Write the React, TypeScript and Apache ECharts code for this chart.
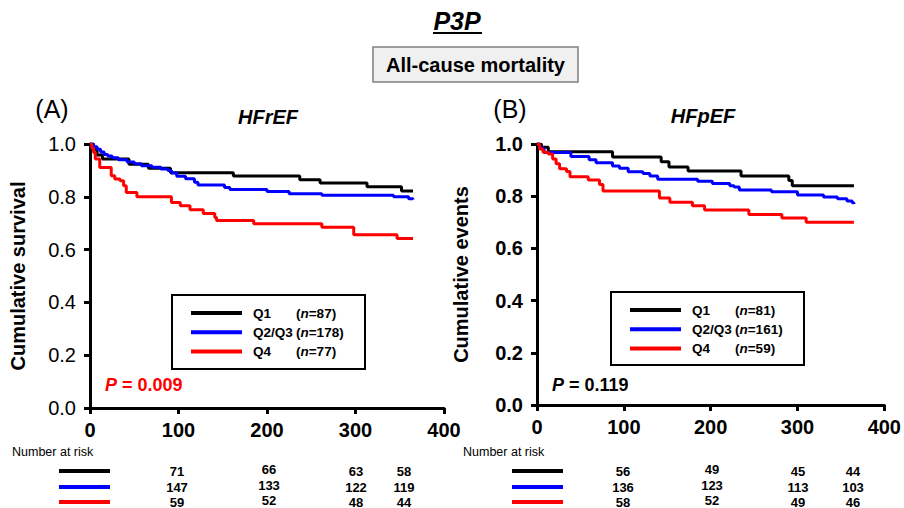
import React, { useEffect, useRef } from "react";
import * as echarts from "echarts";

// ---- Data ----
const xTicks = [0, 100, 200, 300, 400];
const yTicks = [0, 0.2, 0.4, 0.6, 0.8, 1.0];
const groups = ["Q1", "Q2/Q3", "Q4"];
const nA = [87, 178, 77];
const nB = [81, 161, 59];
const pA = "0.009";
const pB = "0.119";

// Panel A (HFrEF) Kaplan–Meier steps: [day, survival]
const A_Q1: [number, number][] = [[0,1],[4,0.98],[8,0.958],[14,0.943],[44,0.923],[66,0.908],[91,0.891],[162,0.879],[237,0.865],[260,0.852],[313,0.838],[352,0.822],[365,0.822]];
const A_Q23: [number, number][] = [[0,1],[4,0.99],[8,0.98],[12,0.97],[16,0.96],[20,0.955],[25,0.948],[32,0.94],[42,0.932],[50,0.925],[58,0.918],[70,0.912],[80,0.905],[88,0.9],[92,0.89],[98,0.878],[108,0.868],[118,0.855],[122,0.845],[152,0.835],[158,0.828],[200,0.82],[225,0.812],[262,0.806],[343,0.8],[360,0.793],[365,0.79]];
const A_Q4: [number, number][] = [[0,1],[2,0.985],[4,0.968],[6,0.943],[11,0.911],[24,0.88],[28,0.867],[34,0.861],[38,0.842],[41,0.816],[53,0.8],[92,0.778],[102,0.766],[113,0.751],[128,0.737],[141,0.722],[143,0.71],[185,0.698],[262,0.685],[298,0.656],[347,0.642],[365,0.642]];

// Panel B (HFpEF)
const B_Q1: [number, number][] = [[0,1],[5,0.988],[13,0.97],[87,0.95],[143,0.932],[152,0.912],[174,0.897],[235,0.877],[290,0.86],[294,0.84],[365,0.84]];
const B_Q23: [number, number][] = [[0,1],[3,0.985],[8,0.967],[39,0.952],[60,0.94],[68,0.928],[87,0.916],[95,0.907],[105,0.894],[122,0.887],[130,0.877],[139,0.865],[185,0.857],[202,0.849],[222,0.84],[227,0.835],[233,0.824],[270,0.817],[300,0.805],[330,0.797],[346,0.79],[357,0.782],[363,0.775],[365,0.77]];
const B_Q4: [number, number][] = [[0,1],[3,0.981],[7,0.968],[13,0.962],[18,0.943],[22,0.924],[26,0.905],[34,0.895],[38,0.875],[59,0.862],[72,0.845],[76,0.82],[141,0.793],[153,0.777],[179,0.763],[193,0.747],[244,0.73],[282,0.716],[310,0.7],[365,0.7]];

// Number at risk
const riskA = [[71, 66, 63, 58], [147, 133, 122, 119], [59, 52, 48, 44]];
const riskB = [[56, 49, 45, 44], [136, 123, 113, 103], [58, 52, 49, 46]];

// ---- Styles / layout ----
const FONT = "Liberation Sans, Arial, Helvetica, sans-serif";
const COLORS = ["#000000", "#0000ff", "#ff0000"];

export default function App() {
  const ref = useRef<HTMLDivElement>(null);
  useEffect(() => {
    if (!ref.current) return;
    const chart = echarts.init(ref.current, undefined, { renderer: "svg" });

    const xAxisBase = (gridIndex: number) => ({
      type: "value",
      gridIndex,
      min: 0,
      max: 400,
      interval: 100,
      axisLine: { show: true, onZero: false, lineStyle: { color: "#000", width: 3 } },
      axisTick: { show: true, inside: false, length: 6, lineStyle: { color: "#000", width: 3 } },
      axisLabel: { color: "#000", fontFamily: FONT, fontSize: 20, fontWeight: "bold", margin: 12 },
      splitLine: { show: false },
    });
    const yAxisBase = (gridIndex: number, name: string, bold: boolean, gap: number) => ({
      type: "value",
      gridIndex,
      min: 0,
      max: 1,
      interval: 0.2,
      name,
      nameLocation: "middle",
      nameGap: gap,
      nameTextStyle: { color: "#000", fontFamily: FONT, fontSize: 20, fontWeight: "bold" },
      axisLine: { show: true, onZero: false, lineStyle: { color: "#000", width: 3 } },
      axisTick: { show: true, inside: false, length: 6, lineStyle: { color: "#000", width: 3 } },
      axisLabel: {
        color: "#000",
        fontFamily: FONT,
        fontSize: 20,
        fontWeight: bold ? "bold" : "normal",
        margin: 14,
        formatter: (v: number) => v.toFixed(1),
      },
      splitLine: { show: false },
    });

    const mkSeries = (data: [number, number][], i: number, axis: number) => ({
      type: "line",
      xAxisIndex: axis,
      yAxisIndex: axis,
      data,
      step: "end",
      showSymbol: false,
      symbol: "none",
      lineStyle: { color: COLORS[i], width: 3 },
      itemStyle: { color: COLORS[i] },
      silent: true,
    });

    const legend = (x0: number, y0: number, w: number, h: number, ns: number[]) => {
      const els: any[] = [
        { type: "rect", shape: { x: x0, y: y0, width: w, height: h }, style: { fill: "#fff", stroke: "#000", lineWidth: 2 } },
      ];
      groups.forEach((g, i) => {
        const y = y0 + 18 + i * 19.2;
        els.push({ type: "line", shape: { x1: x0 + 19, y1: y, x2: x0 + 70, y2: y }, style: { stroke: COLORS[i], lineWidth: 4 } });
        els.push({ type: "text", x: x0 + 81, y, style: { text: g, fontFamily: FONT, fontSize: 13.5, fontWeight: "bold", fill: "#000", verticalAlign: "middle", align: "left" } });
        els.push({
          type: "text",
          x: x0 + 124,
          y,
          style: {
            text: `{b|(}{i|n}{b|=${ns[i]})}`,
            verticalAlign: "middle",
            align: "left",
            rich: {
              b: { fontFamily: FONT, fontSize: 13.5, fontWeight: "bold", fill: "#000" },
              i: { fontFamily: FONT, fontSize: 13.5, fontWeight: "bold", fontStyle: "italic", fill: "#000" },
            },
          },
        });
      });
      return els;
    };

    const risk = (lineX: number, xs: number[], rows: number[][], labelX: number) => {
      const rowY = [471, 487, 502];
      const els: any[] = [
        { type: "text", x: labelX, y: 452, style: { text: "Number at risk", fontFamily: FONT, fontSize: 12.5, fill: "#000", verticalAlign: "middle", align: "left" } },
      ];
      rows.forEach((r, i) => {
        els.push({ type: "line", shape: { x1: lineX, y1: rowY[i], x2: lineX + 51, y2: rowY[i] }, style: { stroke: COLORS[i], lineWidth: 4 } });
        r.forEach((v, j) => {
          els.push({ type: "text", x: xs[j], y: rowY[i] + (j === 1 ? -1.5 : 0), style: { text: String(v), fontFamily: FONT, fontSize: 13, fontWeight: "bold", fill: "#000", align: "center", verticalAlign: "middle" } });
        });
      });
      return els;
    };

    const pText = (x: number, p: string, color: string) => ({
      type: "text",
      x,
      y: 385,
      style: {
        text: `{i|P}{b| = ${p}}`,
        verticalAlign: "middle",
        align: "left",
        rich: {
          i: { fontFamily: FONT, fontSize: 18, fontWeight: "bold", fontStyle: "italic", fill: color },
          b: { fontFamily: FONT, fontSize: 18, fontWeight: "bold", fill: color },
        },
      },
    });

    const option: any = {
      animation: false,
      backgroundColor: "#fff",
      grid: [
        { left: 90, top: 144, width: 354, height: 264 },
        { left: 537, top: 144, width: 348, height: 261 },
      ],
      xAxis: [xAxisBase(0), xAxisBase(1)],
      yAxis: [yAxisBase(0, "Cumulative survival", false, 62), yAxisBase(1, "Cumulative events", true, 66)],
      series: [
        mkSeries(A_Q1, 0, 0),
        mkSeries(A_Q23, 1, 0),
        mkSeries(A_Q4, 2, 0),
        mkSeries(B_Q1, 0, 1),
        mkSeries(B_Q23, 1, 1),
        mkSeries(B_Q4, 2, 1),
      ],
      graphic: [
        { type: "text", x: 457, y: 21, style: { text: "P3P", fontFamily: FONT, fontSize: 25, fontWeight: "bold", fontStyle: "italic", fill: "#000", align: "center", verticalAlign: "middle" } },
        { type: "line", shape: { x1: 433, y1: 33, x2: 482, y2: 33 }, style: { stroke: "#000", lineWidth: 2 } },
        { type: "rect", shape: { x: 373, y: 47, width: 205, height: 35 }, style: { fill: "#f0f0f0", stroke: "#808080", lineWidth: 1.5 } },
        { type: "text", x: 475.5, y: 65, style: { text: "All-cause mortality", fontFamily: FONT, fontSize: 20, fontWeight: "bold", fill: "#000", align: "center", verticalAlign: "middle" } },
        { type: "text", x: 52, y: 109, style: { text: "(A)", fontFamily: FONT, fontSize: 25, fill: "#000", align: "center", verticalAlign: "middle" } },
        { type: "text", x: 510, y: 109, style: { text: "(B)", fontFamily: FONT, fontSize: 25, fill: "#000", align: "center", verticalAlign: "middle" } },
        { type: "text", x: 268, y: 117, style: { text: "HFrEF", fontFamily: FONT, fontSize: 20, fontWeight: "bold", fontStyle: "italic", fill: "#000", align: "center", verticalAlign: "middle" } },
        { type: "text", x: 703, y: 116, style: { text: "HFpEF", fontFamily: FONT, fontSize: 20, fontWeight: "bold", fontStyle: "italic", fill: "#000", align: "center", verticalAlign: "middle" } },
        ...legend(172, 295, 193, 74, nA),
        ...legend(611, 292, 193, 73, nB),
        pText(105, pA, "#ff0000"),
        pText(552, pB, "#000000"),
        ...risk(59, [177, 269, 356, 404], riskA, 12),
        ...risk(512, [623, 712, 798, 853], riskB, 463),
      ],
    };
    chart.setOption(option);
    return () => chart.dispose();
  }, []);
  return <div ref={ref} style={{ position: "fixed", left: 0, top: 0, width: 904, height: 508 }} />;
}
